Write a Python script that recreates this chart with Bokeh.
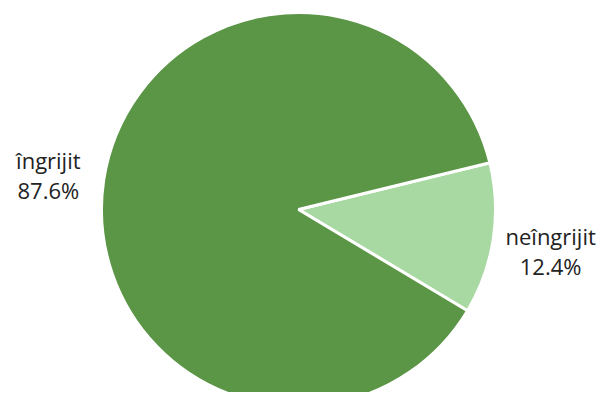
import math
from bokeh.plotting import figure
from bokeh.models import Range1d, ColumnDataSource
from bokeh.embed import file_html
from bokeh.resources import INLINE
from bokeh.core.properties import value

categories = ["neîngrijit", "îngrijit"]
percents = [12.4, 87.6]
colors = ["#a9d9a2", "#5b9546"]

W, H = 602, 392
p = figure(width=W, height=H, output_backend="svg", toolbar_location=None,
           x_range=Range1d(0, W), y_range=Range1d(0, H),
           min_border=0, outline_line_color=None)
p.axis.visible = False
p.grid.visible = False
p.background_fill_color = "white"
p.border_fill_color = "white"

cx, cy, r = 298, 183, 197
start0 = math.radians(-30.9)
starts, ends, mids = [], [], []
a = start0
for v in percents:
    starts.append(a)
    a2 = a + v / 100 * 2 * math.pi
    ends.append(a2)
    mids.append((a + a2) / 2)
    a = a2

src = ColumnDataSource(dict(x=[cx] * 2, y=[cy] * 2, s=starts, e=ends, c=colors))
p.wedge(x="x", y="y", radius=r, start_angle="s", end_angle="e", fill_color="c",
        line_color="white", line_width=3, source=src)

label_radius = [255, 253]
lx = [cx + lr * math.cos(m) for lr, m in zip(label_radius, mids)]
ly = [cy + lr * math.sin(m) for lr, m in zip(label_radius, mids)]
labels = [f"{v:.1f}%" for v in percents]
tsrc = ColumnDataSource(dict(x=lx, y1=[y + 12 for y in ly], y2=[y - 18 for y in ly],
                             n=categories, v=labels))
for col, ycol in (("n", "y1"), ("v", "y2")):
    p.text(x="x", y=ycol, text=col, source=tsrc, text_align="center",
           text_baseline="alphabetic", text_font=value("Open Sans"),
           text_font_size="22px", text_color="#222222")

open("out.html", "w").write(file_html(p, INLINE))
